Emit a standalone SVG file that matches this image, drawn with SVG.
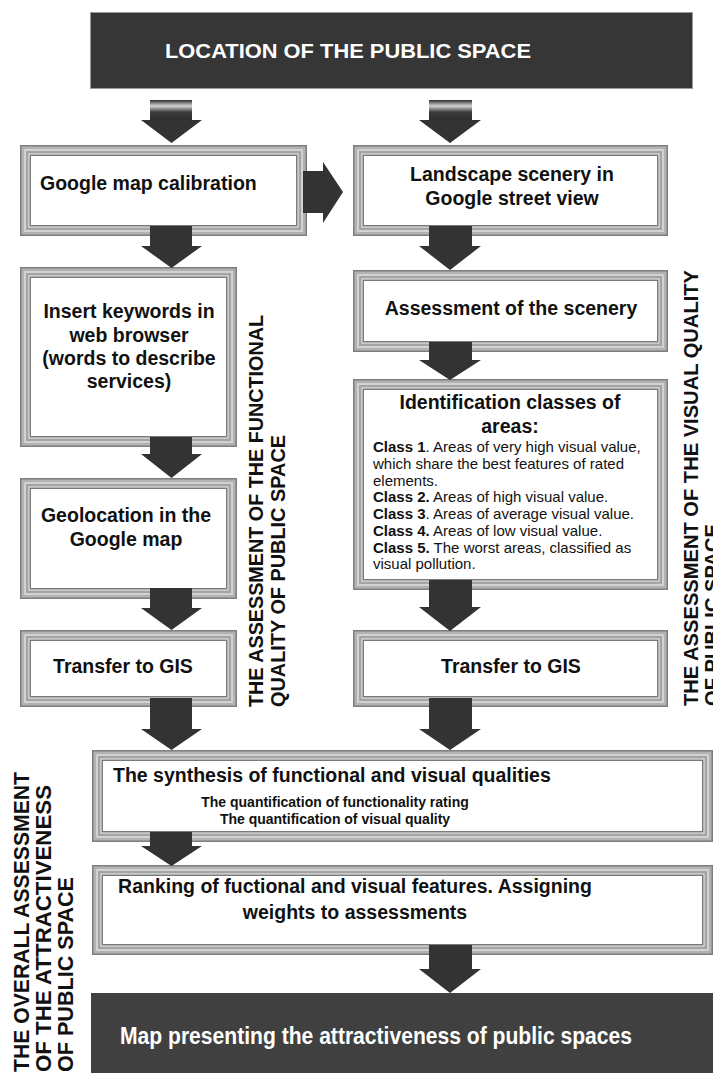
<svg xmlns="http://www.w3.org/2000/svg" width="713" height="1073" viewBox="0 0 713 1073">
<defs>
<linearGradient id="shaftG" x1="0" y1="0" x2="0" y2="1">
<stop offset="0" stop-color="#2e2e2e"/>
<stop offset="0.3" stop-color="#d4d4d4"/>
<stop offset="0.6" stop-color="#3c3c3c"/>
<stop offset="1" stop-color="#2e2e2e"/>
</linearGradient>
</defs>
<style>
.f0{fill:#7e7e7e}.f1{fill:#b2b2b2}.f2{fill:#d2d2d2}.f3{fill:#a4a4a4}.f4{fill:#efefef}.f5{fill:#7a7a7a}.f6{fill:#fff}
.ar{fill:#333}
.t{font-family:"Liberation Sans",Arial,sans-serif;font-weight:bold;font-size:19.5px;fill:#111}
.c{text-anchor:middle}
.s{font-size:15px;font-weight:normal}
.q{font-size:14px}
.v{font-size:20px}
.w{fill:#fff}
</style>
<rect width="713" height="1073" fill="#fff"/>

<g id="banner-top">
<rect x="90.5" y="12.5" width="602" height="76" fill="#363636" stroke="#9a9a9a" stroke-width="1"/>
<text class="t w" x="165" y="58" style="font-size:20px" textLength="366" lengthAdjust="spacingAndGlyphs">LOCATION OF THE PUBLIC SPACE</text>
</g>

<g id="calib">
<rect class="f0" x="20" y="145" width="287" height="91"/>
<rect class="f1" x="21.5" y="146.5" width="284" height="88"/>
<rect class="f2" x="24" y="149" width="279" height="83"/>
<rect class="f3" x="26" y="151" width="275" height="79"/>
<rect class="f4" x="28.5" y="153.5" width="270" height="74"/>
<rect class="f5" x="29.5" y="154.5" width="268" height="72"/>
<rect class="f6" x="31" y="156" width="265" height="69"/>
<text class="t" x="40" y="190">Google map calibration</text>
</g>

<g id="insert">
<rect class="f0" x="20" y="267" width="217" height="180"/>
<rect class="f1" x="21.5" y="268.5" width="214" height="177"/>
<rect class="f2" x="24" y="271" width="209" height="172"/>
<rect class="f3" x="26" y="273" width="205" height="168"/>
<rect class="f4" x="28.5" y="275.5" width="200" height="163"/>
<rect class="f5" x="29.5" y="276.5" width="198" height="161"/>
<rect class="f6" x="31" y="278" width="195" height="158"/>
<text class="t c" x="129" y="318">Insert keywords in</text>
<text class="t c" x="129" y="342">web browser</text>
<text class="t c" x="129" y="365">(words to describe</text>
<text class="t c" x="129" y="388">services)</text>
</g>

<g id="geo">
<rect class="f0" x="20" y="478" width="217" height="121"/>
<rect class="f1" x="21.5" y="479.5" width="214" height="118"/>
<rect class="f2" x="24" y="482" width="209" height="113"/>
<rect class="f3" x="26" y="484" width="205" height="109"/>
<rect class="f4" x="28.5" y="486.5" width="200" height="104"/>
<rect class="f5" x="29.5" y="487.5" width="198" height="102"/>
<rect class="f6" x="31" y="489" width="195" height="99"/>
<text class="t c" x="126" y="522">Geolocation in the</text>
<text class="t c" x="126" y="546">Google map</text>
</g>

<g id="gis-left">
<rect class="f0" x="20" y="630" width="217" height="77"/>
<rect class="f1" x="21.5" y="631.5" width="214" height="74"/>
<rect class="f2" x="24" y="634" width="209" height="69"/>
<rect class="f3" x="26" y="636" width="205" height="65"/>
<rect class="f4" x="28.5" y="638.5" width="200" height="60"/>
<rect class="f5" x="29.5" y="639.5" width="198" height="58"/>
<rect class="f6" x="31" y="641" width="195" height="55"/>
<text class="t c" x="123" y="673">Transfer to GIS</text>
</g>

<g id="landscape">
<rect class="f0" x="353" y="145" width="315" height="91"/>
<rect class="f1" x="354.5" y="146.5" width="312" height="88"/>
<rect class="f2" x="357" y="149" width="307" height="83"/>
<rect class="f3" x="359" y="151" width="303" height="79"/>
<rect class="f4" x="361.5" y="153.5" width="298" height="74"/>
<rect class="f5" x="362.5" y="154.5" width="296" height="72"/>
<rect class="f6" x="364" y="156" width="293" height="69"/>
<text class="t c" x="512" y="181">Landscape scenery in</text>
<text class="t c" x="512" y="205">Google street view</text>
</g>

<g id="assess">
<rect class="f0" x="353" y="270" width="315" height="82"/>
<rect class="f1" x="354.5" y="271.5" width="312" height="79"/>
<rect class="f2" x="357" y="274" width="307" height="74"/>
<rect class="f3" x="359" y="276" width="303" height="70"/>
<rect class="f4" x="361.5" y="278.5" width="298" height="65"/>
<rect class="f5" x="362.5" y="279.5" width="296" height="63"/>
<rect class="f6" x="364" y="281" width="293" height="60"/>
<text class="t c" x="511" y="315">Assessment of the scenery</text>
</g>

<g id="ident">
<rect class="f0" x="353" y="379" width="315" height="211"/>
<rect class="f1" x="354.5" y="380.5" width="312" height="208"/>
<rect class="f2" x="357" y="383" width="307" height="203"/>
<rect class="f3" x="359" y="385" width="303" height="199"/>
<rect class="f4" x="361.5" y="387.5" width="298" height="194"/>
<rect class="f5" x="362.5" y="388.5" width="296" height="192"/>
<rect class="f6" x="364" y="390" width="293" height="189"/>
<text class="t c" x="510" y="409">Identification classes of</text>
<text class="t c" x="510" y="433">areas:</text>
<text class="t s" x="373" y="452"><tspan font-weight="bold">Class 1</tspan>. Areas of very high visual value,</text>
<text class="t s" x="373" y="469">which share the best features of rated</text>
<text class="t s" x="373" y="486">elements.</text>
<text class="t s" x="373" y="502"><tspan font-weight="bold">Class 2.</tspan> Areas of high visual value.</text>
<text class="t s" x="373" y="519"><tspan font-weight="bold">Class 3</tspan>. Areas of average visual value.</text>
<text class="t s" x="373" y="536"><tspan font-weight="bold">Class 4.</tspan> Areas of low visual value.</text>
<text class="t s" x="373" y="553"><tspan font-weight="bold">Class 5.</tspan> The worst areas, classified as</text>
<text class="t s" x="373" y="569">visual pollution.</text>
</g>

<g id="gis-right">
<rect class="f0" x="353" y="630" width="315" height="77"/>
<rect class="f1" x="354.5" y="631.5" width="312" height="74"/>
<rect class="f2" x="357" y="634" width="307" height="69"/>
<rect class="f3" x="359" y="636" width="303" height="65"/>
<rect class="f4" x="361.5" y="638.5" width="298" height="60"/>
<rect class="f5" x="362.5" y="639.5" width="296" height="58"/>
<rect class="f6" x="364" y="641" width="293" height="55"/>
<text class="t c" x="511" y="673">Transfer to GIS</text>
</g>

<g id="synthesis">
<rect class="f0" x="92" y="750" width="621" height="92"/>
<rect class="f1" x="93.5" y="751.5" width="618" height="89"/>
<rect class="f2" x="96" y="754" width="613" height="84"/>
<rect class="f3" x="98" y="756" width="609" height="80"/>
<rect class="f4" x="100.5" y="758.5" width="604" height="75"/>
<rect class="f5" x="101.5" y="759.5" width="602" height="73"/>
<rect class="f6" x="103" y="761" width="599" height="70"/>
<text class="t" x="113" y="782">The synthesis of functional and visual qualities</text>
<text class="t c q" x="335" y="807">The quantification of functionality rating</text>
<text class="t c q" x="335" y="824">The quantification of visual quality</text>
</g>

<g id="ranking">
<rect class="f0" x="92" y="865" width="621" height="90"/>
<rect class="f1" x="93.5" y="866.5" width="618" height="87"/>
<rect class="f2" x="96" y="869" width="613" height="82"/>
<rect class="f3" x="98" y="871" width="609" height="78"/>
<rect class="f4" x="100.5" y="873.5" width="604" height="73"/>
<rect class="f5" x="101.5" y="874.5" width="602" height="71"/>
<rect class="f6" x="103" y="876" width="599" height="68"/>
<text class="t c" x="355" y="893">Ranking of fuctional and visual features. Assigning</text>
<text class="t c" x="355" y="919">weights to assessments</text>
</g>

<g id="banner-bottom">
<rect x="91" y="993" width="622" height="80" fill="#404040"/>
<text x="120" y="1044" style="font-family:'Liberation Sans Narrow','Liberation Sans',Arial,sans-serif;font-weight:bold;font-size:23px;fill:#fff" textLength="512" lengthAdjust="spacingAndGlyphs">Map presenting the attractiveness of public spaces</text>
</g>

<g id="labels">
<text class="t v" transform="translate(263,707) rotate(-90)" textLength="392" lengthAdjust="spacingAndGlyphs">THE ASSESSMENT OF THE FUNCTIONAL</text>
<text class="t v" transform="translate(285,707) rotate(-90)" textLength="272" lengthAdjust="spacingAndGlyphs">QUALITY OF PUBLIC SPACE</text>
<text class="t v" transform="translate(698,706) rotate(-90)" textLength="436" lengthAdjust="spacingAndGlyphs">THE ASSESSMENT OF THE VISUAL QUALITY</text>
<text class="t v" transform="translate(719,706) rotate(-90)" textLength="182" lengthAdjust="spacingAndGlyphs">OF PUBLIC SPACE</text>
<text class="t" style="font-size:21.4px" transform="translate(29,1072) rotate(-90)" textLength="300" lengthAdjust="spacingAndGlyphs">THE OVERALL  ASSESSMENT</text>
<text class="t" style="font-size:21.4px" transform="translate(51,1072) rotate(-90)" textLength="287" lengthAdjust="spacingAndGlyphs">OF THE ATTRACTIVENESS</text>
<text class="t" style="font-size:21.4px" transform="translate(73,1072) rotate(-90)" textLength="195" lengthAdjust="spacingAndGlyphs">OF PUBLIC SPACE</text>
</g>

<g id="connectors">
<polygon class="ar" points="150,100 192,100 192,120 202,120 171.5,143 141,120 150,120"/>
<rect x="150" y="100" width="42" height="20" fill="url(#shaftG)"/>
<polygon class="ar" points="429,100 472,100 472,120 481,120 450,143 419,120 429,120"/>
<rect x="429" y="100" width="43" height="20" fill="url(#shaftG)"/>
<polygon class="ar" points="303,171 323,171 323,162 343,192 323,223 323,213 303,213"/>
<polygon class="ar" points="150,226 192,226 192,246 202,246 171.5,268 141,246 150,246"/>
<polygon class="ar" points="150,437 192,437 192,454 202,454 171.5,478 141,454 150,454"/>
<polygon class="ar" points="150,588 192,588 192,608 202,608 171.5,630 141,608 150,608"/>
<polygon class="ar" points="150,698 192,698 192,729 202,729 171.5,750 141,729 150,729"/>
<polygon class="ar" points="150,832 192,832 192,846 202,846 171.5,866 141,846 150,846"/>
<polygon class="ar" points="429,226 472,226 472,246 481,246 450,270 419,246 429,246"/>
<polygon class="ar" points="429,342 472,342 472,360 481,360 450,380 419,360 429,360"/>
<polygon class="ar" points="429,580 472,580 472,607 481,607 450,631 419,607 429,607"/>
<polygon class="ar" points="429,698 472,698 472,729 481,729 450,750 419,729 429,729"/>
<polygon class="ar" points="429,945 472,945 472,969 481,969 450,993 419,969 429,969"/>
</g>
</svg>
